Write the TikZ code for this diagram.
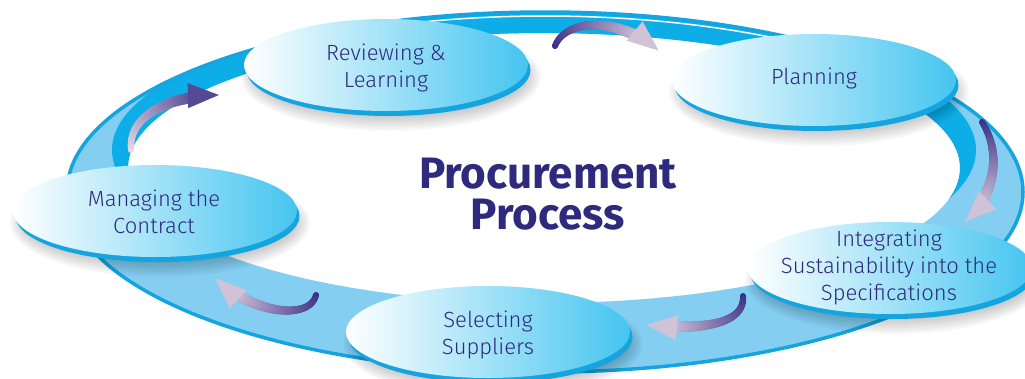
\documentclass[tikz,border=0pt]{standalone}
\usepackage{fontspec}
\setmainfont{Fira Sans}
\newfontfamily\lightfont{Fira Sans Light}
\usetikzlibrary{shapes.geometric,shadows,decorations.markings,calc}
\definecolor{ink}{HTML}{2E2A7E}
\definecolor{bandc}{HTML}{84CEF2}
\definecolor{bandd}{HTML}{0DAEE8}
\definecolor{rimc}{HTML}{14A5E0}
\definecolor{nodeR}{HTML}{45C5F0}
\definecolor{arD}{HTML}{3A2F86}
\definecolor{arL}{HTML}{EADCE6}
\tikzset{
  stage/.style={ellipse, minimum width=284pt, minimum height=92pt, inner sep=0pt,
    general shadow={fill=rimc, shadow xshift=2.5pt, shadow yshift=-5pt},
    left color=white, right color=nodeR},
  softshadow/.style={fill=black, opacity=0.028},
  lbl/.style={text=ink, font=\lightfont\fontsize{22}{27}\selectfont, align=center, inner sep=0pt},
  ttl/.style={text=ink, font=\fontsize{44}{41}\selectfont\bfseries, align=center, inner sep=0pt},
  flowarrow/.style 2 args={decoration={markings,
     mark=between positions 0pt and -26pt step 0.7pt with {
       \pgfmathsetmacro\fr{\pgfkeysvalueof{/pgf/decoration/mark info/distance from start}/\pgfdecoratedpathlength}
       \pgfmathsetmacro\pc{100*\fr}
       \pgfmathsetmacro\rr{3+3.5*\fr}
       \fill[#2!\pc!#1] (0pt,0pt) circle (\rr pt);
     },
     mark=at position 1 with {\fill[#2!85!#1] (-30pt,12.5pt) -- (1pt,0pt) -- (-30pt,-12.5pt) -- cycle;}
   }, postaction=decorate}
}
\begin{document}
\begin{tikzpicture}[x=1pt,y=-1pt]
\useasboundingbox (0,0) rectangle (1025,378);
\clip (0,0) rectangle (1025,378);
% ring band
\fill[bandc, even odd rule] (545,192) ellipse [x radius=478, y radius=180]
      (544,168) ellipse [x radius=416, y radius=135];
\begin{scope}[even odd rule]
  \clip (545,192) ellipse [x radius=478, y radius=180]
      (544,168) ellipse [x radius=416, y radius=135];
  \fill[bandd] (544,150) ellipse [x radius=432, y radius=140];
\end{scope}
\draw[rimc, line width=3.5pt] (545,192) ellipse [x radius=478, y radius=180];
\draw[white, line width=1.5pt] (422.3,22) arc [start angle=-105, end angle=-55, x radius=474, y radius=176];

% stage positions
\coordinate (revC) at (386,65);
\coordinate (plaC) at (814,80);
\coordinate (manC) at (155,211);
\coordinate (selC) at (488,332);
\coordinate (intC) at (890,268);

% soft shadows
\foreach \c in {revC,plaC,manC,selC,intC}{
  \foreach \k in {0,...,9}{
    \fill[softshadow] ($(\c)+(5,12)$) ellipse [x radius={150-2*\k}, y radius={54-2*\k}];
  }
}

% stages
\node[stage] (rev) at (revC) {};
\node[stage] (pla) at (plaC) {};
\node[stage] (man) at (manC) {};
\node[stage] (sel) at (selC) {};
\node[stage] (int) at (intC) {};

\node[lbl] (revT) at (386,68) {Reviewing \&\\Learning};
\node[lbl] (plaT) at (814,78) {Planning};
\node[lbl] (manT) at (154,212) {Managing the\\Contract};
\node[lbl] (selT) at (488,335) {Selecting\\Suppliers};
\node[lbl] (intT) at (889,267) {Integrating\\Sustainability into the\\Specifications};

\node[ttl] (title) at (548,194) {Procurement\\Process};

% flow arrows
\coordinate (a1s) at (131,150); \coordinate (a1e) at (218,95);
\coordinate (a2s) at (555,46);  \coordinate (a2e) at (658,50);
\coordinate (a3s) at (982,122); \coordinate (a3e) at (966,221);
\coordinate (a4s) at (743,296); \coordinate (a4e) at (647,325);
\coordinate (a5s) at (316,295); \coordinate (a5e) at (216,279);
\path[flowarrow={arL}{arD}] (a1s) .. controls (128,115) and (170,96) .. (a1e);
\path[flowarrow={arD}{arL}] (a2s) .. controls (565,20) and (615,15) .. (a2e);
\path[flowarrow={arD}{arL}] (a3s) .. controls (1000,150) and (998,190) .. (a3e);
\path[flowarrow={arD}{arL}] (a4s) .. controls (745,325) and (700,330) .. (a4e);
\path[flowarrow={arD}{arL}] (a5s) .. controls (310,320) and (255,315) .. (a5e);
\end{tikzpicture}
\end{document}
